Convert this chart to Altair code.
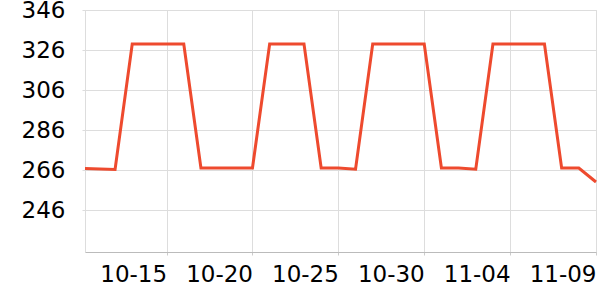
import altair as alt
import pandas as pd

dates = [
    "2023-10-10T06:00", "2023-10-12T00:00", "2023-10-13T00:00", "2023-10-14T00:00",
    "2023-10-15T00:00", "2023-10-16T00:00", "2023-10-17T00:00", "2023-10-18T00:00",
    "2023-10-19T00:00", "2023-10-20T00:00", "2023-10-21T00:00", "2023-10-22T00:00",
    "2023-10-23T00:00", "2023-10-24T00:00", "2023-10-25T00:00", "2023-10-26T00:00",
    "2023-10-27T00:00", "2023-10-28T00:00", "2023-10-29T00:00", "2023-10-30T00:00",
    "2023-10-31T00:00", "2023-11-01T00:00", "2023-11-02T00:00", "2023-11-03T00:00",
    "2023-11-04T00:00", "2023-11-05T00:00", "2023-11-06T00:00", "2023-11-07T00:00",
    "2023-11-08T00:00", "2023-11-09T00:00",
]
values = [
    266.8, 266.3, 329, 329,
    329, 329, 267, 267,
    267, 267, 329, 329,
    329, 267, 267, 266.4,
    329, 329, 329, 329,
    267, 267, 266.4, 329,
    329, 329, 329, 267,
    267, 260,
]
y_ticks = [246, 266, 286, 306, 326, 346]
x_tick_days = [(10, 15), (10, 20), (10, 25), (10, 30), (11, 4), (11, 9)]

df = pd.DataFrame({"date": dates, "value": values})

chart = alt.Chart(df).mark_line(color="#ee4a2e", strokeWidth=3, strokeJoin="miter").encode(
    x=alt.X(
        "date:T",
        title=None,
        scale=alt.Scale(nice=False, padding=0),
        axis=alt.Axis(
            values=[alt.DateTime(year=2023, month=m, date=d) for m, d in x_tick_days],
            format="%m-%d",
            labelAlign="right",
            labelBaseline="top",
            labelFont="DejaVu Sans",
            labelFontSize=23,
            labelColor="#000000",
            labelPadding=8,
            labelOverlap=False,
            labelFlush=False,
            tickSize=3,
            tickColor="#cccccc",
            domainColor="#bbbbbb",
            gridColor="#dddddd",
        ),
    ),
    y=alt.Y(
        "value:Q",
        title=None,
        scale=alt.Scale(domain=[225, 346], nice=False, zero=False),
        axis=alt.Axis(
            values=y_ticks,
            labelFont="DejaVu Sans",
            labelFontSize=23,
            labelColor="#000000",
            labelPadding=17,
            tickSize=3,
            tickColor="#dddddd",
            domainColor="#dddddd",
            gridColor="#dddddd",
        ),
    ),
).properties(
    width=511,
    height=242,
    padding={"left": 85, "top": 10, "right": 4, "bottom": 48},
    autosize=alt.AutoSizeParams(type="none"),
).configure_view(stroke=None).configure(background="white")

chart.save("out.html", embed_options={"renderer": "svg", "actions": False})
